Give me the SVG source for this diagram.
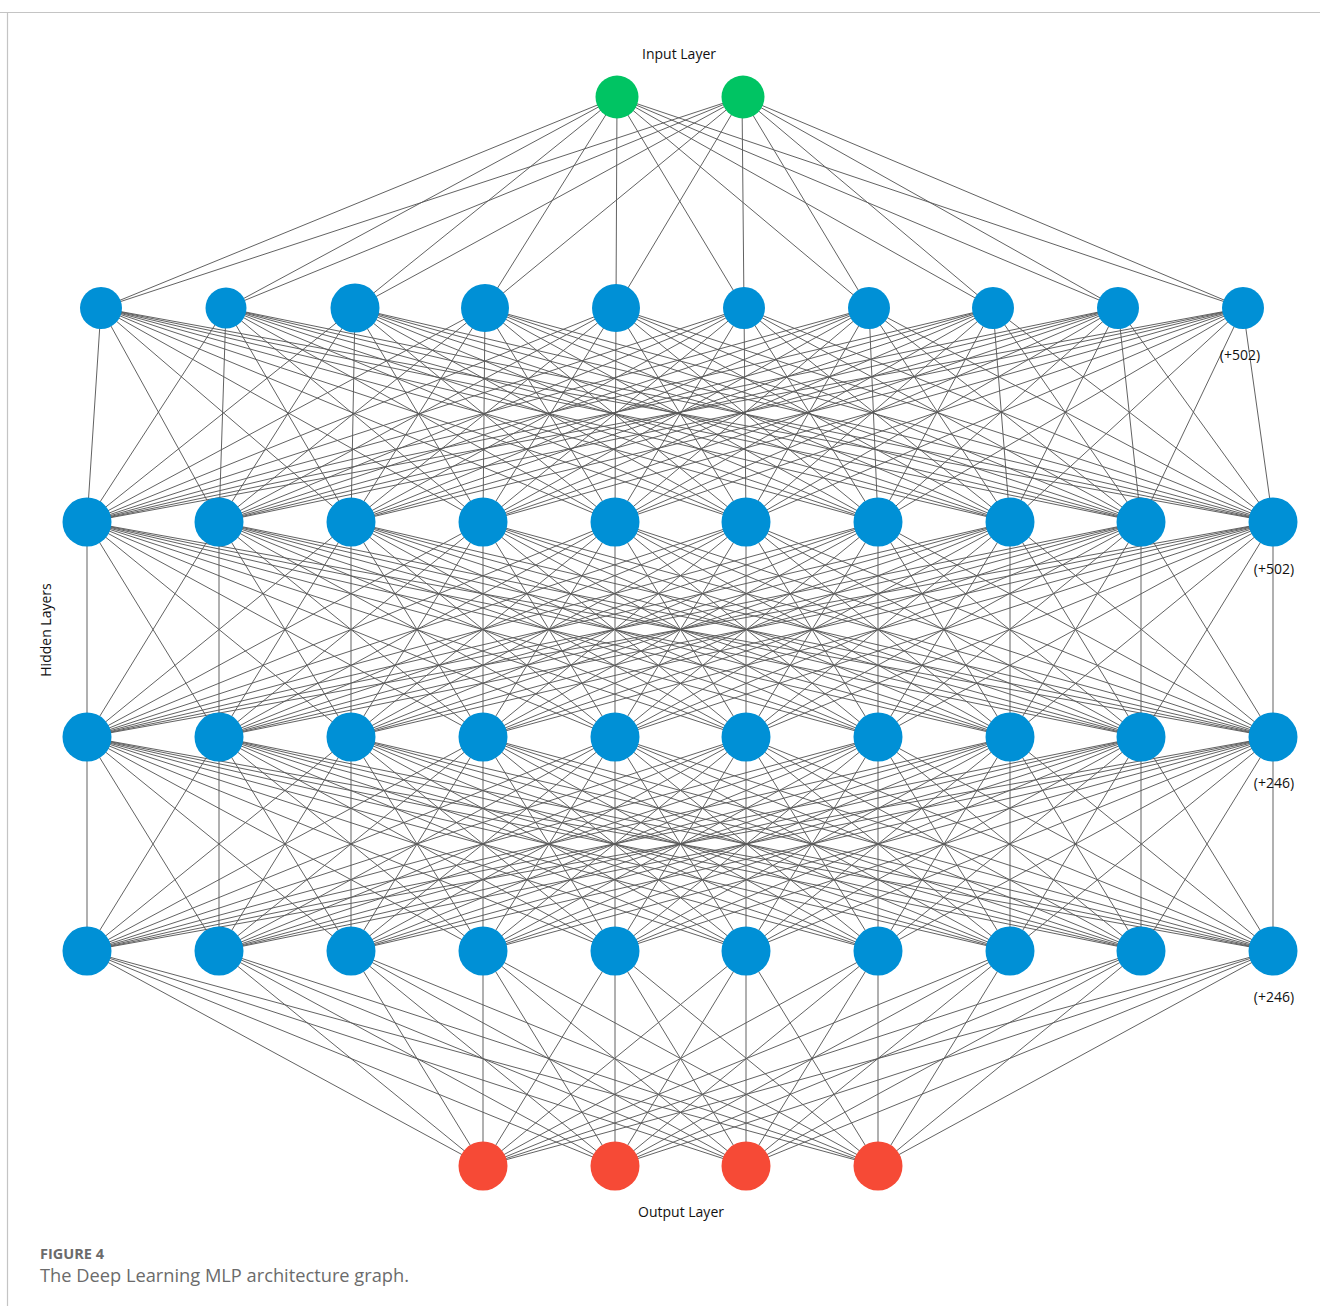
<svg xmlns="http://www.w3.org/2000/svg" width="1320" height="1306" viewBox="0 0 1320 1306">
<style>
.e{stroke:#5a5a5a;stroke-width:0.95;fill:none}
.h{fill:#0090d6}
.i{fill:#00c463}
.o{fill:#f64a36}
.lbl{font-family:"Open Sans","Liberation Sans",sans-serif;font-size:14px;fill:#111}
.cap{font-family:"Open Sans","Liberation Sans",sans-serif;fill:#6b6b6b}
</style>
<rect width="1320" height="1306" fill="#fff"/>
<g id="frame" stroke="#c4c4c4" stroke-width="1.2">
<line x1="0" y1="12.5" x2="1320" y2="12.5"/>
<line x1="7.5" y1="12" x2="7.5" y2="1306"/>
</g>
<g id="connectors">
<line class="e" x1="617" y1="97" x2="101" y2="308"/><line class="e" x1="617" y1="97" x2="226" y2="308"/><line class="e" x1="617" y1="97" x2="355" y2="308"/><line class="e" x1="617" y1="97" x2="485" y2="308"/><line class="e" x1="617" y1="97" x2="616" y2="308"/><line class="e" x1="617" y1="97" x2="744" y2="308"/><line class="e" x1="617" y1="97" x2="869" y2="308"/><line class="e" x1="617" y1="97" x2="993" y2="308"/><line class="e" x1="617" y1="97" x2="1118" y2="308"/><line class="e" x1="617" y1="97" x2="1243" y2="308"/>
<line class="e" x1="742" y1="97" x2="101" y2="308"/><line class="e" x1="742" y1="97" x2="226" y2="308"/><line class="e" x1="742" y1="97" x2="355" y2="308"/><line class="e" x1="742" y1="97" x2="485" y2="308"/><line class="e" x1="742" y1="97" x2="616" y2="308"/><line class="e" x1="742" y1="97" x2="744" y2="308"/><line class="e" x1="742" y1="97" x2="869" y2="308"/><line class="e" x1="742" y1="97" x2="993" y2="308"/><line class="e" x1="742" y1="97" x2="1118" y2="308"/><line class="e" x1="742" y1="97" x2="1243" y2="308"/>
<line class="e" x1="101" y1="308" x2="87" y2="522"/><line class="e" x1="101" y1="308" x2="219" y2="522"/><line class="e" x1="101" y1="308" x2="351" y2="522"/><line class="e" x1="101" y1="308" x2="483" y2="522"/><line class="e" x1="101" y1="308" x2="615" y2="522"/><line class="e" x1="101" y1="308" x2="746" y2="522"/><line class="e" x1="101" y1="308" x2="878" y2="522"/><line class="e" x1="101" y1="308" x2="1010" y2="522"/><line class="e" x1="101" y1="308" x2="1141" y2="522"/><line class="e" x1="101" y1="308" x2="1273" y2="522"/>
<line class="e" x1="226" y1="308" x2="87" y2="522"/><line class="e" x1="226" y1="308" x2="219" y2="522"/><line class="e" x1="226" y1="308" x2="351" y2="522"/><line class="e" x1="226" y1="308" x2="483" y2="522"/><line class="e" x1="226" y1="308" x2="615" y2="522"/><line class="e" x1="226" y1="308" x2="746" y2="522"/><line class="e" x1="226" y1="308" x2="878" y2="522"/><line class="e" x1="226" y1="308" x2="1010" y2="522"/><line class="e" x1="226" y1="308" x2="1141" y2="522"/><line class="e" x1="226" y1="308" x2="1273" y2="522"/>
<line class="e" x1="355" y1="308" x2="87" y2="522"/><line class="e" x1="355" y1="308" x2="219" y2="522"/><line class="e" x1="355" y1="308" x2="351" y2="522"/><line class="e" x1="355" y1="308" x2="483" y2="522"/><line class="e" x1="355" y1="308" x2="615" y2="522"/><line class="e" x1="355" y1="308" x2="746" y2="522"/><line class="e" x1="355" y1="308" x2="878" y2="522"/><line class="e" x1="355" y1="308" x2="1010" y2="522"/><line class="e" x1="355" y1="308" x2="1141" y2="522"/><line class="e" x1="355" y1="308" x2="1273" y2="522"/>
<line class="e" x1="485" y1="308" x2="87" y2="522"/><line class="e" x1="485" y1="308" x2="219" y2="522"/><line class="e" x1="485" y1="308" x2="351" y2="522"/><line class="e" x1="485" y1="308" x2="483" y2="522"/><line class="e" x1="485" y1="308" x2="615" y2="522"/><line class="e" x1="485" y1="308" x2="746" y2="522"/><line class="e" x1="485" y1="308" x2="878" y2="522"/><line class="e" x1="485" y1="308" x2="1010" y2="522"/><line class="e" x1="485" y1="308" x2="1141" y2="522"/><line class="e" x1="485" y1="308" x2="1273" y2="522"/>
<line class="e" x1="616" y1="308" x2="87" y2="522"/><line class="e" x1="616" y1="308" x2="219" y2="522"/><line class="e" x1="616" y1="308" x2="351" y2="522"/><line class="e" x1="616" y1="308" x2="483" y2="522"/><line class="e" x1="616" y1="308" x2="615" y2="522"/><line class="e" x1="616" y1="308" x2="746" y2="522"/><line class="e" x1="616" y1="308" x2="878" y2="522"/><line class="e" x1="616" y1="308" x2="1010" y2="522"/><line class="e" x1="616" y1="308" x2="1141" y2="522"/><line class="e" x1="616" y1="308" x2="1273" y2="522"/>
<line class="e" x1="744" y1="308" x2="87" y2="522"/><line class="e" x1="744" y1="308" x2="219" y2="522"/><line class="e" x1="744" y1="308" x2="351" y2="522"/><line class="e" x1="744" y1="308" x2="483" y2="522"/><line class="e" x1="744" y1="308" x2="615" y2="522"/><line class="e" x1="744" y1="308" x2="746" y2="522"/><line class="e" x1="744" y1="308" x2="878" y2="522"/><line class="e" x1="744" y1="308" x2="1010" y2="522"/><line class="e" x1="744" y1="308" x2="1141" y2="522"/><line class="e" x1="744" y1="308" x2="1273" y2="522"/>
<line class="e" x1="869" y1="308" x2="87" y2="522"/><line class="e" x1="869" y1="308" x2="219" y2="522"/><line class="e" x1="869" y1="308" x2="351" y2="522"/><line class="e" x1="869" y1="308" x2="483" y2="522"/><line class="e" x1="869" y1="308" x2="615" y2="522"/><line class="e" x1="869" y1="308" x2="746" y2="522"/><line class="e" x1="869" y1="308" x2="878" y2="522"/><line class="e" x1="869" y1="308" x2="1010" y2="522"/><line class="e" x1="869" y1="308" x2="1141" y2="522"/><line class="e" x1="869" y1="308" x2="1273" y2="522"/>
<line class="e" x1="993" y1="308" x2="87" y2="522"/><line class="e" x1="993" y1="308" x2="219" y2="522"/><line class="e" x1="993" y1="308" x2="351" y2="522"/><line class="e" x1="993" y1="308" x2="483" y2="522"/><line class="e" x1="993" y1="308" x2="615" y2="522"/><line class="e" x1="993" y1="308" x2="746" y2="522"/><line class="e" x1="993" y1="308" x2="878" y2="522"/><line class="e" x1="993" y1="308" x2="1010" y2="522"/><line class="e" x1="993" y1="308" x2="1141" y2="522"/><line class="e" x1="993" y1="308" x2="1273" y2="522"/>
<line class="e" x1="1118" y1="308" x2="87" y2="522"/><line class="e" x1="1118" y1="308" x2="219" y2="522"/><line class="e" x1="1118" y1="308" x2="351" y2="522"/><line class="e" x1="1118" y1="308" x2="483" y2="522"/><line class="e" x1="1118" y1="308" x2="615" y2="522"/><line class="e" x1="1118" y1="308" x2="746" y2="522"/><line class="e" x1="1118" y1="308" x2="878" y2="522"/><line class="e" x1="1118" y1="308" x2="1010" y2="522"/><line class="e" x1="1118" y1="308" x2="1141" y2="522"/><line class="e" x1="1118" y1="308" x2="1273" y2="522"/>
<line class="e" x1="1243" y1="308" x2="87" y2="522"/><line class="e" x1="1243" y1="308" x2="219" y2="522"/><line class="e" x1="1243" y1="308" x2="351" y2="522"/><line class="e" x1="1243" y1="308" x2="483" y2="522"/><line class="e" x1="1243" y1="308" x2="615" y2="522"/><line class="e" x1="1243" y1="308" x2="746" y2="522"/><line class="e" x1="1243" y1="308" x2="878" y2="522"/><line class="e" x1="1243" y1="308" x2="1010" y2="522"/><line class="e" x1="1243" y1="308" x2="1141" y2="522"/><line class="e" x1="1243" y1="308" x2="1273" y2="522"/>
<line class="e" x1="87" y1="522" x2="87" y2="737"/><line class="e" x1="87" y1="522" x2="219" y2="737"/><line class="e" x1="87" y1="522" x2="351" y2="737"/><line class="e" x1="87" y1="522" x2="483" y2="737"/><line class="e" x1="87" y1="522" x2="615" y2="737"/><line class="e" x1="87" y1="522" x2="746" y2="737"/><line class="e" x1="87" y1="522" x2="878" y2="737"/><line class="e" x1="87" y1="522" x2="1010" y2="737"/><line class="e" x1="87" y1="522" x2="1141" y2="737"/><line class="e" x1="87" y1="522" x2="1273" y2="737"/>
<line class="e" x1="219" y1="522" x2="87" y2="737"/><line class="e" x1="219" y1="522" x2="219" y2="737"/><line class="e" x1="219" y1="522" x2="351" y2="737"/><line class="e" x1="219" y1="522" x2="483" y2="737"/><line class="e" x1="219" y1="522" x2="615" y2="737"/><line class="e" x1="219" y1="522" x2="746" y2="737"/><line class="e" x1="219" y1="522" x2="878" y2="737"/><line class="e" x1="219" y1="522" x2="1010" y2="737"/><line class="e" x1="219" y1="522" x2="1141" y2="737"/><line class="e" x1="219" y1="522" x2="1273" y2="737"/>
<line class="e" x1="351" y1="522" x2="87" y2="737"/><line class="e" x1="351" y1="522" x2="219" y2="737"/><line class="e" x1="351" y1="522" x2="351" y2="737"/><line class="e" x1="351" y1="522" x2="483" y2="737"/><line class="e" x1="351" y1="522" x2="615" y2="737"/><line class="e" x1="351" y1="522" x2="746" y2="737"/><line class="e" x1="351" y1="522" x2="878" y2="737"/><line class="e" x1="351" y1="522" x2="1010" y2="737"/><line class="e" x1="351" y1="522" x2="1141" y2="737"/><line class="e" x1="351" y1="522" x2="1273" y2="737"/>
<line class="e" x1="483" y1="522" x2="87" y2="737"/><line class="e" x1="483" y1="522" x2="219" y2="737"/><line class="e" x1="483" y1="522" x2="351" y2="737"/><line class="e" x1="483" y1="522" x2="483" y2="737"/><line class="e" x1="483" y1="522" x2="615" y2="737"/><line class="e" x1="483" y1="522" x2="746" y2="737"/><line class="e" x1="483" y1="522" x2="878" y2="737"/><line class="e" x1="483" y1="522" x2="1010" y2="737"/><line class="e" x1="483" y1="522" x2="1141" y2="737"/><line class="e" x1="483" y1="522" x2="1273" y2="737"/>
<line class="e" x1="615" y1="522" x2="87" y2="737"/><line class="e" x1="615" y1="522" x2="219" y2="737"/><line class="e" x1="615" y1="522" x2="351" y2="737"/><line class="e" x1="615" y1="522" x2="483" y2="737"/><line class="e" x1="615" y1="522" x2="615" y2="737"/><line class="e" x1="615" y1="522" x2="746" y2="737"/><line class="e" x1="615" y1="522" x2="878" y2="737"/><line class="e" x1="615" y1="522" x2="1010" y2="737"/><line class="e" x1="615" y1="522" x2="1141" y2="737"/><line class="e" x1="615" y1="522" x2="1273" y2="737"/>
<line class="e" x1="746" y1="522" x2="87" y2="737"/><line class="e" x1="746" y1="522" x2="219" y2="737"/><line class="e" x1="746" y1="522" x2="351" y2="737"/><line class="e" x1="746" y1="522" x2="483" y2="737"/><line class="e" x1="746" y1="522" x2="615" y2="737"/><line class="e" x1="746" y1="522" x2="746" y2="737"/><line class="e" x1="746" y1="522" x2="878" y2="737"/><line class="e" x1="746" y1="522" x2="1010" y2="737"/><line class="e" x1="746" y1="522" x2="1141" y2="737"/><line class="e" x1="746" y1="522" x2="1273" y2="737"/>
<line class="e" x1="878" y1="522" x2="87" y2="737"/><line class="e" x1="878" y1="522" x2="219" y2="737"/><line class="e" x1="878" y1="522" x2="351" y2="737"/><line class="e" x1="878" y1="522" x2="483" y2="737"/><line class="e" x1="878" y1="522" x2="615" y2="737"/><line class="e" x1="878" y1="522" x2="746" y2="737"/><line class="e" x1="878" y1="522" x2="878" y2="737"/><line class="e" x1="878" y1="522" x2="1010" y2="737"/><line class="e" x1="878" y1="522" x2="1141" y2="737"/><line class="e" x1="878" y1="522" x2="1273" y2="737"/>
<line class="e" x1="1010" y1="522" x2="87" y2="737"/><line class="e" x1="1010" y1="522" x2="219" y2="737"/><line class="e" x1="1010" y1="522" x2="351" y2="737"/><line class="e" x1="1010" y1="522" x2="483" y2="737"/><line class="e" x1="1010" y1="522" x2="615" y2="737"/><line class="e" x1="1010" y1="522" x2="746" y2="737"/><line class="e" x1="1010" y1="522" x2="878" y2="737"/><line class="e" x1="1010" y1="522" x2="1010" y2="737"/><line class="e" x1="1010" y1="522" x2="1141" y2="737"/><line class="e" x1="1010" y1="522" x2="1273" y2="737"/>
<line class="e" x1="1141" y1="522" x2="87" y2="737"/><line class="e" x1="1141" y1="522" x2="219" y2="737"/><line class="e" x1="1141" y1="522" x2="351" y2="737"/><line class="e" x1="1141" y1="522" x2="483" y2="737"/><line class="e" x1="1141" y1="522" x2="615" y2="737"/><line class="e" x1="1141" y1="522" x2="746" y2="737"/><line class="e" x1="1141" y1="522" x2="878" y2="737"/><line class="e" x1="1141" y1="522" x2="1010" y2="737"/><line class="e" x1="1141" y1="522" x2="1141" y2="737"/><line class="e" x1="1141" y1="522" x2="1273" y2="737"/>
<line class="e" x1="1273" y1="522" x2="87" y2="737"/><line class="e" x1="1273" y1="522" x2="219" y2="737"/><line class="e" x1="1273" y1="522" x2="351" y2="737"/><line class="e" x1="1273" y1="522" x2="483" y2="737"/><line class="e" x1="1273" y1="522" x2="615" y2="737"/><line class="e" x1="1273" y1="522" x2="746" y2="737"/><line class="e" x1="1273" y1="522" x2="878" y2="737"/><line class="e" x1="1273" y1="522" x2="1010" y2="737"/><line class="e" x1="1273" y1="522" x2="1141" y2="737"/><line class="e" x1="1273" y1="522" x2="1273" y2="737"/>
<line class="e" x1="87" y1="737" x2="87" y2="951"/><line class="e" x1="87" y1="737" x2="219" y2="951"/><line class="e" x1="87" y1="737" x2="351" y2="951"/><line class="e" x1="87" y1="737" x2="483" y2="951"/><line class="e" x1="87" y1="737" x2="615" y2="951"/><line class="e" x1="87" y1="737" x2="746" y2="951"/><line class="e" x1="87" y1="737" x2="878" y2="951"/><line class="e" x1="87" y1="737" x2="1010" y2="951"/><line class="e" x1="87" y1="737" x2="1141" y2="951"/><line class="e" x1="87" y1="737" x2="1273" y2="951"/>
<line class="e" x1="219" y1="737" x2="87" y2="951"/><line class="e" x1="219" y1="737" x2="219" y2="951"/><line class="e" x1="219" y1="737" x2="351" y2="951"/><line class="e" x1="219" y1="737" x2="483" y2="951"/><line class="e" x1="219" y1="737" x2="615" y2="951"/><line class="e" x1="219" y1="737" x2="746" y2="951"/><line class="e" x1="219" y1="737" x2="878" y2="951"/><line class="e" x1="219" y1="737" x2="1010" y2="951"/><line class="e" x1="219" y1="737" x2="1141" y2="951"/><line class="e" x1="219" y1="737" x2="1273" y2="951"/>
<line class="e" x1="351" y1="737" x2="87" y2="951"/><line class="e" x1="351" y1="737" x2="219" y2="951"/><line class="e" x1="351" y1="737" x2="351" y2="951"/><line class="e" x1="351" y1="737" x2="483" y2="951"/><line class="e" x1="351" y1="737" x2="615" y2="951"/><line class="e" x1="351" y1="737" x2="746" y2="951"/><line class="e" x1="351" y1="737" x2="878" y2="951"/><line class="e" x1="351" y1="737" x2="1010" y2="951"/><line class="e" x1="351" y1="737" x2="1141" y2="951"/><line class="e" x1="351" y1="737" x2="1273" y2="951"/>
<line class="e" x1="483" y1="737" x2="87" y2="951"/><line class="e" x1="483" y1="737" x2="219" y2="951"/><line class="e" x1="483" y1="737" x2="351" y2="951"/><line class="e" x1="483" y1="737" x2="483" y2="951"/><line class="e" x1="483" y1="737" x2="615" y2="951"/><line class="e" x1="483" y1="737" x2="746" y2="951"/><line class="e" x1="483" y1="737" x2="878" y2="951"/><line class="e" x1="483" y1="737" x2="1010" y2="951"/><line class="e" x1="483" y1="737" x2="1141" y2="951"/><line class="e" x1="483" y1="737" x2="1273" y2="951"/>
<line class="e" x1="615" y1="737" x2="87" y2="951"/><line class="e" x1="615" y1="737" x2="219" y2="951"/><line class="e" x1="615" y1="737" x2="351" y2="951"/><line class="e" x1="615" y1="737" x2="483" y2="951"/><line class="e" x1="615" y1="737" x2="615" y2="951"/><line class="e" x1="615" y1="737" x2="746" y2="951"/><line class="e" x1="615" y1="737" x2="878" y2="951"/><line class="e" x1="615" y1="737" x2="1010" y2="951"/><line class="e" x1="615" y1="737" x2="1141" y2="951"/><line class="e" x1="615" y1="737" x2="1273" y2="951"/>
<line class="e" x1="746" y1="737" x2="87" y2="951"/><line class="e" x1="746" y1="737" x2="219" y2="951"/><line class="e" x1="746" y1="737" x2="351" y2="951"/><line class="e" x1="746" y1="737" x2="483" y2="951"/><line class="e" x1="746" y1="737" x2="615" y2="951"/><line class="e" x1="746" y1="737" x2="746" y2="951"/><line class="e" x1="746" y1="737" x2="878" y2="951"/><line class="e" x1="746" y1="737" x2="1010" y2="951"/><line class="e" x1="746" y1="737" x2="1141" y2="951"/><line class="e" x1="746" y1="737" x2="1273" y2="951"/>
<line class="e" x1="878" y1="737" x2="87" y2="951"/><line class="e" x1="878" y1="737" x2="219" y2="951"/><line class="e" x1="878" y1="737" x2="351" y2="951"/><line class="e" x1="878" y1="737" x2="483" y2="951"/><line class="e" x1="878" y1="737" x2="615" y2="951"/><line class="e" x1="878" y1="737" x2="746" y2="951"/><line class="e" x1="878" y1="737" x2="878" y2="951"/><line class="e" x1="878" y1="737" x2="1010" y2="951"/><line class="e" x1="878" y1="737" x2="1141" y2="951"/><line class="e" x1="878" y1="737" x2="1273" y2="951"/>
<line class="e" x1="1010" y1="737" x2="87" y2="951"/><line class="e" x1="1010" y1="737" x2="219" y2="951"/><line class="e" x1="1010" y1="737" x2="351" y2="951"/><line class="e" x1="1010" y1="737" x2="483" y2="951"/><line class="e" x1="1010" y1="737" x2="615" y2="951"/><line class="e" x1="1010" y1="737" x2="746" y2="951"/><line class="e" x1="1010" y1="737" x2="878" y2="951"/><line class="e" x1="1010" y1="737" x2="1010" y2="951"/><line class="e" x1="1010" y1="737" x2="1141" y2="951"/><line class="e" x1="1010" y1="737" x2="1273" y2="951"/>
<line class="e" x1="1141" y1="737" x2="87" y2="951"/><line class="e" x1="1141" y1="737" x2="219" y2="951"/><line class="e" x1="1141" y1="737" x2="351" y2="951"/><line class="e" x1="1141" y1="737" x2="483" y2="951"/><line class="e" x1="1141" y1="737" x2="615" y2="951"/><line class="e" x1="1141" y1="737" x2="746" y2="951"/><line class="e" x1="1141" y1="737" x2="878" y2="951"/><line class="e" x1="1141" y1="737" x2="1010" y2="951"/><line class="e" x1="1141" y1="737" x2="1141" y2="951"/><line class="e" x1="1141" y1="737" x2="1273" y2="951"/>
<line class="e" x1="1273" y1="737" x2="87" y2="951"/><line class="e" x1="1273" y1="737" x2="219" y2="951"/><line class="e" x1="1273" y1="737" x2="351" y2="951"/><line class="e" x1="1273" y1="737" x2="483" y2="951"/><line class="e" x1="1273" y1="737" x2="615" y2="951"/><line class="e" x1="1273" y1="737" x2="746" y2="951"/><line class="e" x1="1273" y1="737" x2="878" y2="951"/><line class="e" x1="1273" y1="737" x2="1010" y2="951"/><line class="e" x1="1273" y1="737" x2="1141" y2="951"/><line class="e" x1="1273" y1="737" x2="1273" y2="951"/>
<line class="e" x1="87" y1="951" x2="483" y2="1166"/><line class="e" x1="87" y1="951" x2="615" y2="1166"/><line class="e" x1="87" y1="951" x2="746" y2="1166"/><line class="e" x1="87" y1="951" x2="878" y2="1166"/>
<line class="e" x1="219" y1="951" x2="483" y2="1166"/><line class="e" x1="219" y1="951" x2="615" y2="1166"/><line class="e" x1="219" y1="951" x2="746" y2="1166"/><line class="e" x1="219" y1="951" x2="878" y2="1166"/>
<line class="e" x1="351" y1="951" x2="483" y2="1166"/><line class="e" x1="351" y1="951" x2="615" y2="1166"/><line class="e" x1="351" y1="951" x2="746" y2="1166"/><line class="e" x1="351" y1="951" x2="878" y2="1166"/>
<line class="e" x1="483" y1="951" x2="483" y2="1166"/><line class="e" x1="483" y1="951" x2="615" y2="1166"/><line class="e" x1="483" y1="951" x2="746" y2="1166"/><line class="e" x1="483" y1="951" x2="878" y2="1166"/>
<line class="e" x1="615" y1="951" x2="483" y2="1166"/><line class="e" x1="615" y1="951" x2="615" y2="1166"/><line class="e" x1="615" y1="951" x2="746" y2="1166"/><line class="e" x1="615" y1="951" x2="878" y2="1166"/>
<line class="e" x1="746" y1="951" x2="483" y2="1166"/><line class="e" x1="746" y1="951" x2="615" y2="1166"/><line class="e" x1="746" y1="951" x2="746" y2="1166"/><line class="e" x1="746" y1="951" x2="878" y2="1166"/>
<line class="e" x1="878" y1="951" x2="483" y2="1166"/><line class="e" x1="878" y1="951" x2="615" y2="1166"/><line class="e" x1="878" y1="951" x2="746" y2="1166"/><line class="e" x1="878" y1="951" x2="878" y2="1166"/>
<line class="e" x1="1010" y1="951" x2="483" y2="1166"/><line class="e" x1="1010" y1="951" x2="615" y2="1166"/><line class="e" x1="1010" y1="951" x2="746" y2="1166"/><line class="e" x1="1010" y1="951" x2="878" y2="1166"/>
<line class="e" x1="1141" y1="951" x2="483" y2="1166"/><line class="e" x1="1141" y1="951" x2="615" y2="1166"/><line class="e" x1="1141" y1="951" x2="746" y2="1166"/><line class="e" x1="1141" y1="951" x2="878" y2="1166"/>
<line class="e" x1="1273" y1="951" x2="483" y2="1166"/><line class="e" x1="1273" y1="951" x2="615" y2="1166"/><line class="e" x1="1273" y1="951" x2="746" y2="1166"/><line class="e" x1="1273" y1="951" x2="878" y2="1166"/>
</g>
<g id="input-layer">
<circle id="in1" class="i" cx="617" cy="97" r="21.5"/>
<circle id="in2" class="i" cx="743" cy="97" r="21.5"/>
</g>
<g id="hidden-1">
<circle id="h1n1" class="h" cx="101" cy="308" r="21"/>
<circle id="h1n2" class="h" cx="226" cy="308" r="20.5"/>
<circle id="h1n3" class="h" cx="355" cy="308" r="24.5"/>
<circle id="h1n4" class="h" cx="485" cy="308" r="24"/>
<circle id="h1n5" class="h" cx="616" cy="308" r="24"/>
<circle id="h1n6" class="h" cx="744" cy="308" r="21"/>
<circle id="h1n7" class="h" cx="869" cy="308" r="21"/>
<circle id="h1n8" class="h" cx="993" cy="308" r="21"/>
<circle id="h1n9" class="h" cx="1118" cy="308" r="21"/>
<circle id="h1n10" class="h" cx="1243" cy="308" r="21"/>
</g>
<g id="hidden-2">
<circle id="h2n1" class="h" cx="87" cy="522" r="24.5"/>
<circle id="h2n2" class="h" cx="219" cy="522" r="24.5"/>
<circle id="h2n3" class="h" cx="351" cy="522" r="24.5"/>
<circle id="h2n4" class="h" cx="483" cy="522" r="24.5"/>
<circle id="h2n5" class="h" cx="615" cy="522" r="24.5"/>
<circle id="h2n6" class="h" cx="746" cy="522" r="24.5"/>
<circle id="h2n7" class="h" cx="878" cy="522" r="24.5"/>
<circle id="h2n8" class="h" cx="1010" cy="522" r="24.5"/>
<circle id="h2n9" class="h" cx="1141" cy="522" r="24.5"/>
<circle id="h2n10" class="h" cx="1273" cy="522" r="24.5"/>
</g>
<g id="hidden-3">
<circle id="h3n1" class="h" cx="87" cy="737" r="24.5"/>
<circle id="h3n2" class="h" cx="219" cy="737" r="24.5"/>
<circle id="h3n3" class="h" cx="351" cy="737" r="24.5"/>
<circle id="h3n4" class="h" cx="483" cy="737" r="24.5"/>
<circle id="h3n5" class="h" cx="615" cy="737" r="24.5"/>
<circle id="h3n6" class="h" cx="746" cy="737" r="24.5"/>
<circle id="h3n7" class="h" cx="878" cy="737" r="24.5"/>
<circle id="h3n8" class="h" cx="1010" cy="737" r="24.5"/>
<circle id="h3n9" class="h" cx="1141" cy="737" r="24.5"/>
<circle id="h3n10" class="h" cx="1273" cy="737" r="24.5"/>
</g>
<g id="hidden-4">
<circle id="h4n1" class="h" cx="87" cy="951" r="24.5"/>
<circle id="h4n2" class="h" cx="219" cy="951" r="24.5"/>
<circle id="h4n3" class="h" cx="351" cy="951" r="24.5"/>
<circle id="h4n4" class="h" cx="483" cy="951" r="24.5"/>
<circle id="h4n5" class="h" cx="615" cy="951" r="24.5"/>
<circle id="h4n6" class="h" cx="746" cy="951" r="24.5"/>
<circle id="h4n7" class="h" cx="878" cy="951" r="24.5"/>
<circle id="h4n8" class="h" cx="1010" cy="951" r="24.5"/>
<circle id="h4n9" class="h" cx="1141" cy="951" r="24.5"/>
<circle id="h4n10" class="h" cx="1273" cy="951" r="24.5"/>
</g>
<g id="output-layer">
<circle id="out1" class="o" cx="483" cy="1166" r="24.5"/>
<circle id="out2" class="o" cx="615" cy="1166" r="24.5"/>
<circle id="out3" class="o" cx="746" cy="1166" r="24.5"/>
<circle id="out4" class="o" cx="878" cy="1166" r="24.5"/>
</g>
<g id="labels">
<text class="lbl" x="679" y="59" text-anchor="middle">Input Layer</text>
<text class="lbl" x="681" y="1217" text-anchor="middle">Output Layer</text>
<text class="lbl" transform="translate(51,630) rotate(-90)" text-anchor="middle">Hidden Layers</text>
<text class="lbl" x="1240" y="360" text-anchor="middle">(+502)</text>
<text class="lbl" x="1274" y="574" text-anchor="middle">(+502)</text>
<text class="lbl" x="1274" y="788" text-anchor="middle">(+246)</text>
<text class="lbl" x="1274" y="1002" text-anchor="middle">(+246)</text>
</g>
<g id="caption">
<text class="cap" x="40" y="1259" font-size="13.5" font-weight="bold" textLength="64" lengthAdjust="spacingAndGlyphs">FIGURE 4</text>
<text class="cap" x="40" y="1282" font-size="17.5" textLength="369" lengthAdjust="spacingAndGlyphs">The Deep Learning MLP architecture graph.</text>
</g>
</svg>
